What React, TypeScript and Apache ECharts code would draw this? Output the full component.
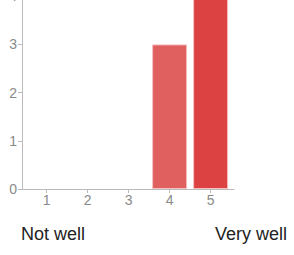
import React, { useEffect, useRef } from "react";
import * as echarts from "echarts";

const categories = [1, 2, 3, 4, 5];
const counts = [0, 0, 0, 3, 5];
const barColors = ["#f4b4b4", "#ee9595", "#e77a7a", "#e06060", "#dc4242"];
const yTicks = [0, 1, 2, 3, 4, 5];
const lowLabel = "Not well";
const highLabel = "Very well";

const FONT = '"Liberation Sans", Arial, sans-serif';
const OFFSET = 70;

export default function App() {
  const ref = useRef<HTMLDivElement>(null);
  useEffect(() => {
    if (!ref.current) return;
    const chart = echarts.init(ref.current, null, { renderer: "svg" });
    const data = categories
      .map((c, i) => ({
        value: [c, counts[i]],
        itemStyle: { color: barColors[i], borderColor: "#f6c0c0", borderWidth: 1 },
      }))
      .filter((d) => (d.value[1] as number) > 0);
    chart.setOption({
      animation: false,
      grid: { left: 22, right: 60, top: 18, bottom: 66, containLabel: false },
      xAxis: {
        type: "value",
        min: 0.4,
        max: 5.57,
        splitLine: { show: false },
        axisLine: { show: true, lineStyle: { color: "#bbbbbb", width: 1 } },
        axisTick: { show: true, length: 4, lineStyle: { color: "#bbbbbb" }, customValues: categories },
        axisLabel: {
          color: "#8a8a8a",
          fontSize: 14,
          fontFamily: FONT,
          margin: 4,
          customValues: categories,
          formatter: (v: number) => String(v),
        },
      },
      yAxis: {
        type: "value",
        min: 0,
        max: yTicks[yTicks.length - 1],
        interval: 1,
        splitLine: { show: false },
        axisLine: { show: true, lineStyle: { color: "#bbbbbb", width: 1 } },
        axisTick: { show: true, length: 4, lineStyle: { color: "#bbbbbb" } },
        axisLabel: { color: "#8a8a8a", fontSize: 14, fontFamily: FONT, margin: 5 },
      },
      series: [
        {
          type: "bar",
          data,
          barWidth: 35,
        },
      ],
      graphic: [
        {
          type: "text",
          left: 21,
          top: 234.7 + OFFSET - 10,
          style: { text: lowLabel, fill: "#222222", font: `18px ${FONT}` },
        },
        {
          type: "text",
          right: 294 - 287,
          top: 234.7 + OFFSET - 10,
          style: { text: highLabel, fill: "#222222", font: `18px ${FONT}` },
        },
      ],
    });
    return () => chart.dispose();
  }, []);
  return (
    <div
      ref={ref}
      style={{ position: "absolute", left: 0, top: -OFFSET, width: 294, height: 255 + OFFSET }}
    />
  );
}
